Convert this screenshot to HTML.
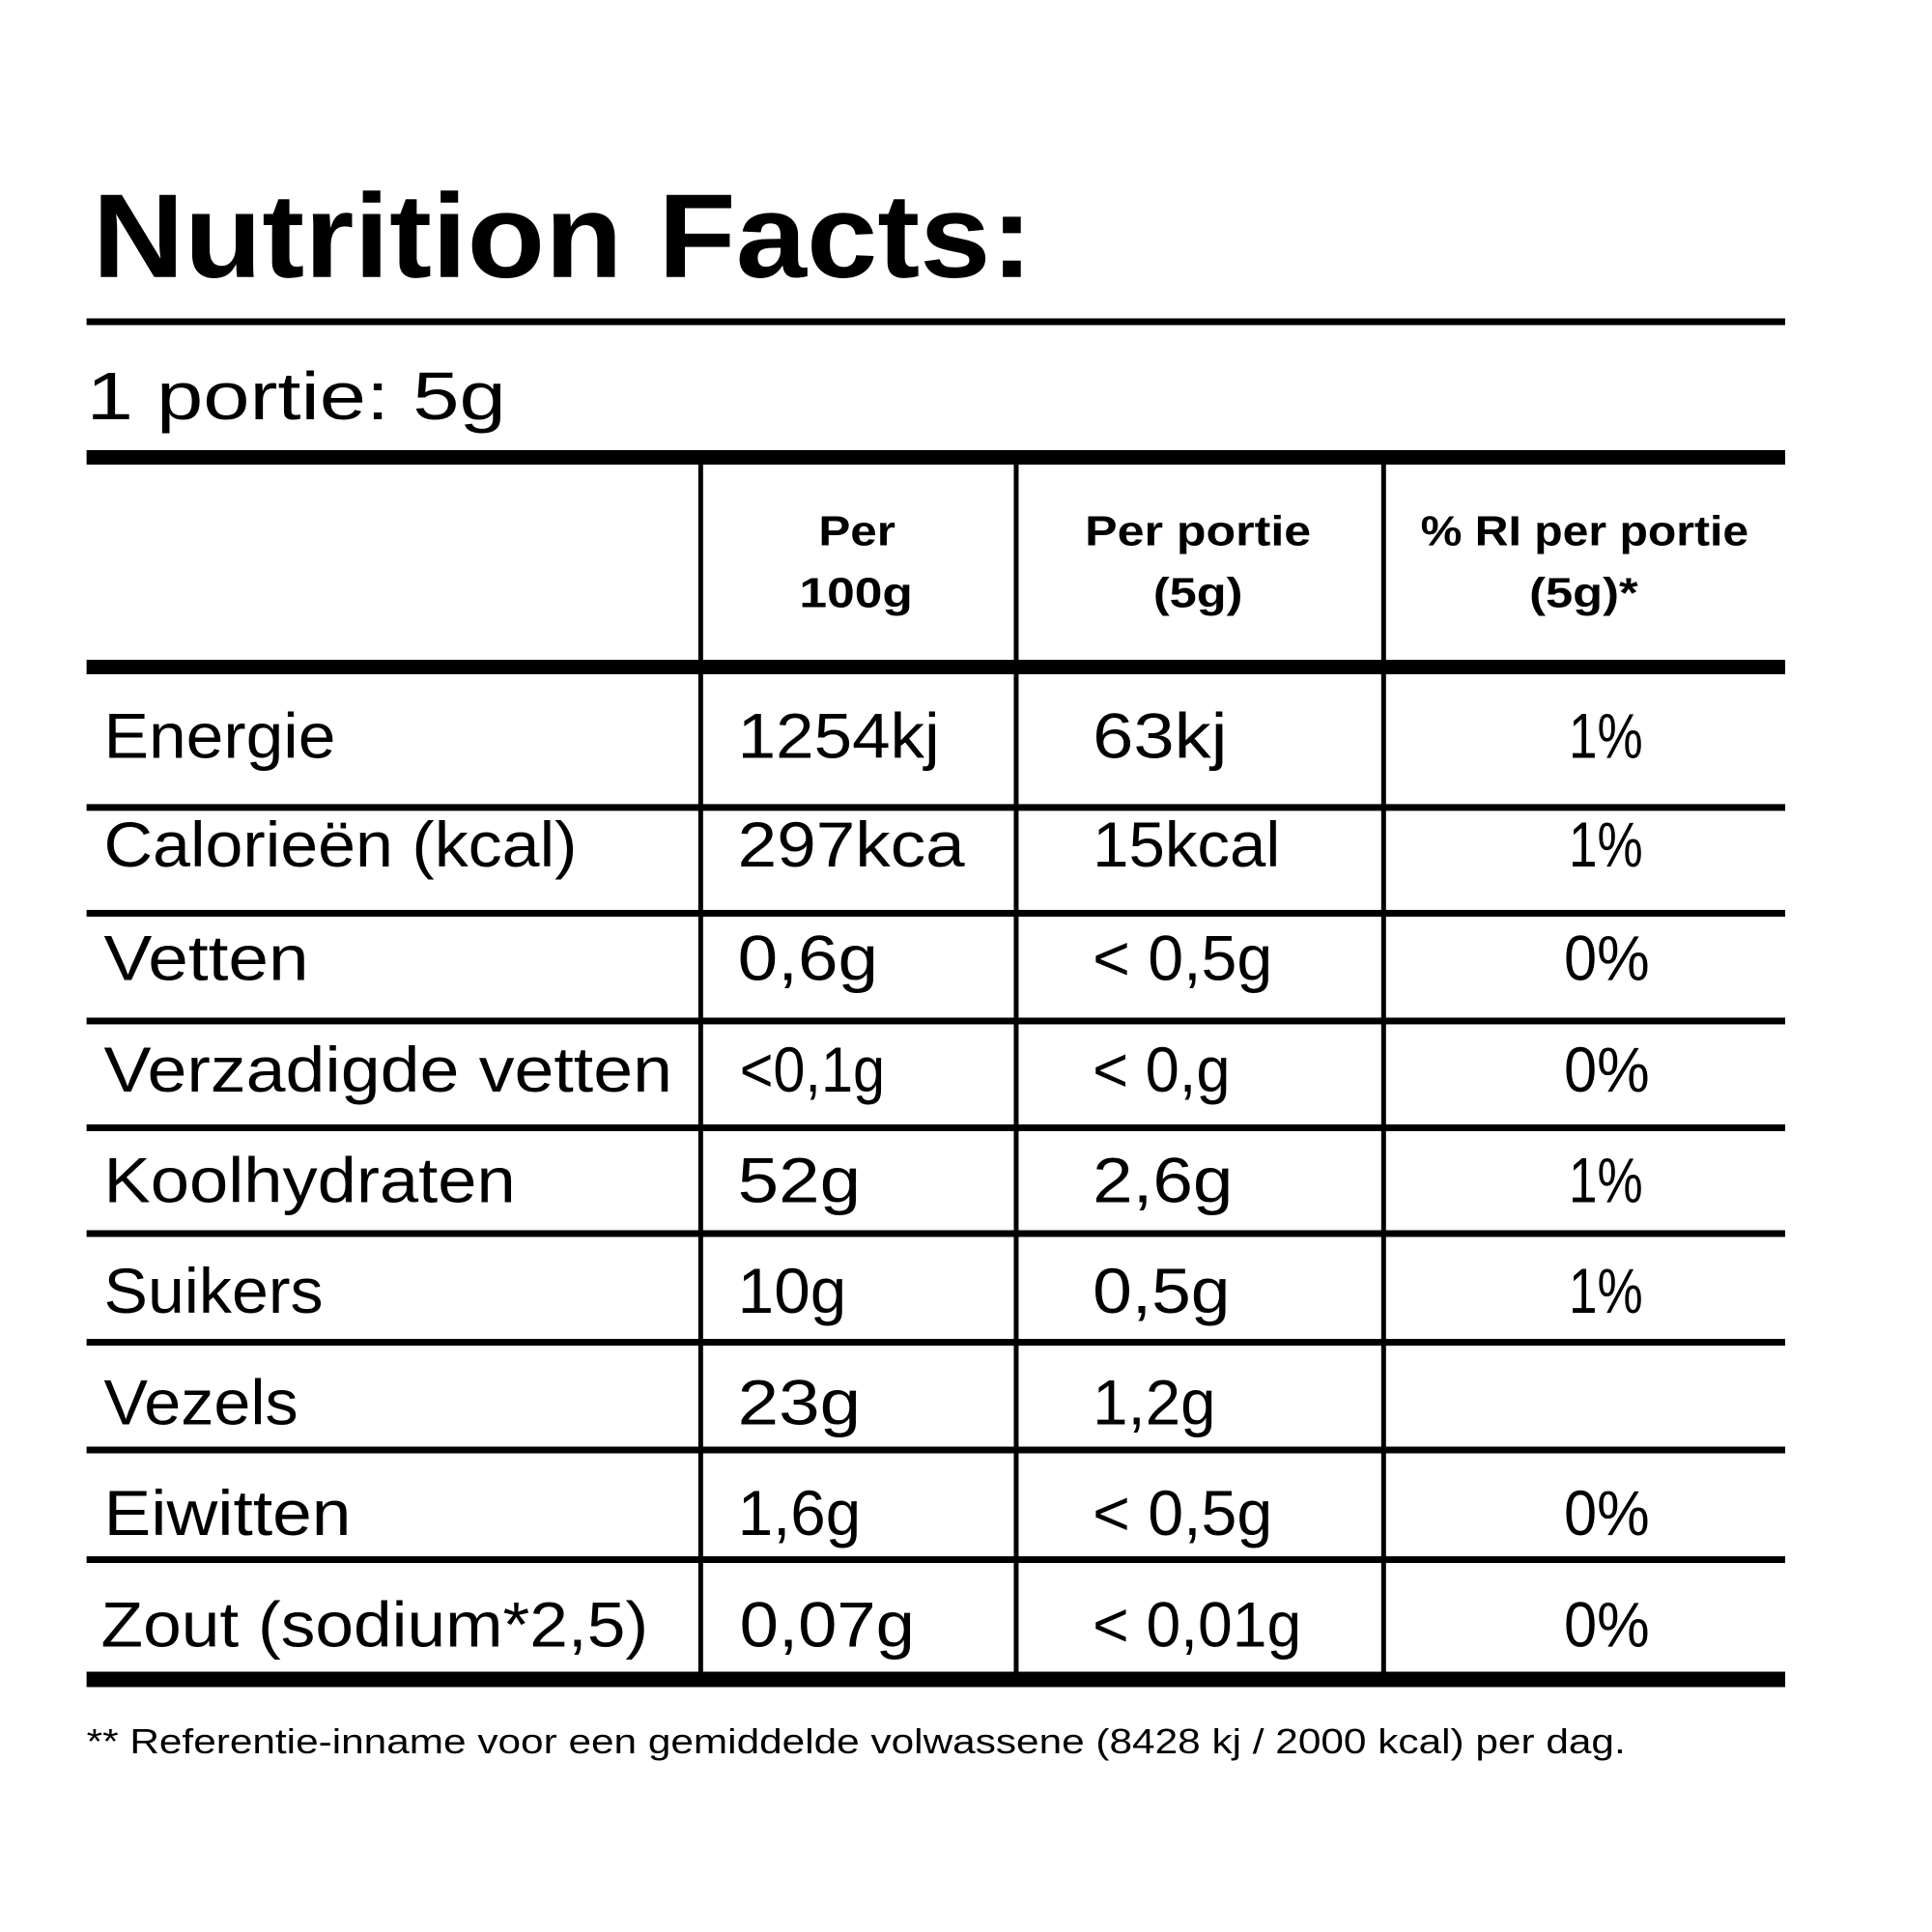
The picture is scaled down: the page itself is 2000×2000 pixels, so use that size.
<!DOCTYPE html>
<html><head><meta charset="utf-8"><style>html,body{margin:0;padding:0;background:#fff}svg{display:block}</style></head>
<body>
<svg width="2000" height="2000" viewBox="0 0 2000 2000" xmlns="http://www.w3.org/2000/svg">
<rect width="2000" height="2000" fill="#fff"/>
<g transform="scale(0.9957)">
<g fill="#000">
<rect x="90" y="331" width="1766" height="7"/>
<rect x="90" y="468" width="1766" height="15"/>
<rect x="90" y="686" width="1766" height="15"/>
<rect x="90" y="836" width="1766" height="7"/>
<rect x="90" y="946" width="1766" height="7"/>
<rect x="90" y="1058" width="1766" height="7"/>
<rect x="90" y="1169" width="1766" height="7"/>
<rect x="90" y="1279" width="1766" height="7"/>
<rect x="90" y="1392" width="1766" height="7"/>
<rect x="90" y="1504" width="1766" height="7"/>
<rect x="90" y="1618" width="1766" height="7"/>
<rect x="90" y="1738" width="1766" height="16"/>
<rect x="726" y="483" width="5" height="1258"/>
<rect x="1054" y="483" width="5" height="1258"/>
<rect x="1436" y="483" width="5" height="1258"/>
</g>
<g font-family="Liberation Sans, sans-serif" fill="#000">
<text x="96" y="288" font-size="124" font-weight="bold" textLength="978" lengthAdjust="spacingAndGlyphs">Nutrition Facts:</text>
<text x="90" y="436" font-size="70" textLength="436" lengthAdjust="spacingAndGlyphs">1 portie: 5g</text>
<g font-size="44" font-weight="bold">
<text x="851" y="567" textLength="80" lengthAdjust="spacingAndGlyphs">Per</text>
<text x="831" y="631" textLength="118" lengthAdjust="spacingAndGlyphs">100g</text>
<text x="1128" y="567" textLength="235" lengthAdjust="spacingAndGlyphs">Per portie</text>
<text x="1199" y="631" textLength="93" lengthAdjust="spacingAndGlyphs">(5g)</text>
<text x="1477" y="567" textLength="341" lengthAdjust="spacingAndGlyphs">% RI per portie</text>
<text x="1590" y="631" textLength="113" lengthAdjust="spacingAndGlyphs">(5g)*</text>
</g>
<g font-size="66">
<text x="108" y="788" textLength="241" lengthAdjust="spacingAndGlyphs">Energie</text>
<text x="108" y="901" textLength="492" lengthAdjust="spacingAndGlyphs">Calorieën (kcal)</text>
<text x="108" y="1019" textLength="213" lengthAdjust="spacingAndGlyphs">Vetten</text>
<text x="108" y="1135" textLength="591" lengthAdjust="spacingAndGlyphs">Verzadigde vetten</text>
<text x="108" y="1250" textLength="428" lengthAdjust="spacingAndGlyphs">Koolhydraten</text>
<text x="108" y="1365" textLength="228" lengthAdjust="spacingAndGlyphs">Suikers</text>
<text x="108" y="1481" textLength="202" lengthAdjust="spacingAndGlyphs">Vezels</text>
<text x="108" y="1596" textLength="257" lengthAdjust="spacingAndGlyphs">Eiwitten</text>
<text x="105" y="1712" textLength="569" lengthAdjust="spacingAndGlyphs">Zout (sodium*2,5)</text>

<text x="767" y="788" textLength="210" lengthAdjust="spacingAndGlyphs">1254kj</text>
<text x="767" y="901" textLength="236" lengthAdjust="spacingAndGlyphs">297kca</text>
<text x="767" y="1019" textLength="146" lengthAdjust="spacingAndGlyphs">0,6g</text>
<text x="769" y="1135" textLength="151" lengthAdjust="spacingAndGlyphs">&lt;0,1g</text>
<text x="767" y="1250" textLength="128" lengthAdjust="spacingAndGlyphs">52g</text>
<text x="767" y="1365" textLength="113" lengthAdjust="spacingAndGlyphs">10g</text>
<text x="767" y="1481" textLength="128" lengthAdjust="spacingAndGlyphs">23g</text>
<text x="767" y="1596" textLength="128" lengthAdjust="spacingAndGlyphs">1,6g</text>
<text x="769" y="1712" textLength="182" lengthAdjust="spacingAndGlyphs">0,07g</text>

<text x="1136" y="788" textLength="140" lengthAdjust="spacingAndGlyphs">63kj</text>
<text x="1136" y="901" textLength="195" lengthAdjust="spacingAndGlyphs">15kcal</text>
<text x="1136" y="1019" textLength="187" lengthAdjust="spacingAndGlyphs">&lt; 0,5g</text>
<text x="1136" y="1135" textLength="143" lengthAdjust="spacingAndGlyphs">&lt; 0,g</text>
<text x="1136" y="1250" textLength="146" lengthAdjust="spacingAndGlyphs">2,6g</text>
<text x="1136" y="1365" textLength="143" lengthAdjust="spacingAndGlyphs">0,5g</text>
<text x="1136" y="1481" textLength="128" lengthAdjust="spacingAndGlyphs">1,2g</text>
<text x="1136" y="1596" textLength="187" lengthAdjust="spacingAndGlyphs">&lt; 0,5g</text>
<text x="1136" y="1712" textLength="217" lengthAdjust="spacingAndGlyphs">&lt; 0,01g</text>

<text x="1631" y="788" textLength="77" lengthAdjust="spacingAndGlyphs">1%</text>
<text x="1631" y="901" textLength="77" lengthAdjust="spacingAndGlyphs">1%</text>
<text x="1626" y="1019" textLength="89" lengthAdjust="spacingAndGlyphs">0%</text>
<text x="1626" y="1135" textLength="89" lengthAdjust="spacingAndGlyphs">0%</text>
<text x="1631" y="1250" textLength="77" lengthAdjust="spacingAndGlyphs">1%</text>
<text x="1631" y="1365" textLength="77" lengthAdjust="spacingAndGlyphs">1%</text>
<text x="1626" y="1596" textLength="89" lengthAdjust="spacingAndGlyphs">0%</text>
<text x="1626" y="1712" textLength="89" lengthAdjust="spacingAndGlyphs">0%</text>
</g>
<text x="90" y="1823" font-size="36" textLength="1600" lengthAdjust="spacingAndGlyphs">** Referentie-inname voor een gemiddelde volwassene (8428 kj / 2000 kcal) per dag.</text>
</g>
</g>
</svg>
</body></html>
